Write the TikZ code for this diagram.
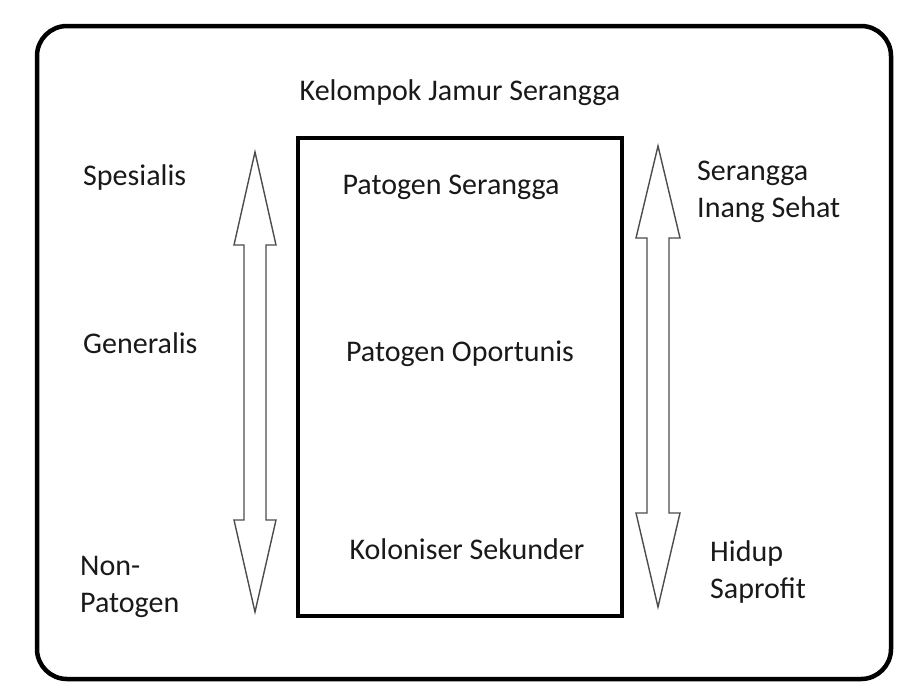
\documentclass[tikz,border=0pt]{standalone}
\usepackage{fontspec}
\setmainfont{Carlito}
\usepackage{xcolor}

\tikzset{
  lbl/.style={inner sep=0pt, font=\fontsize{30}{37}\selectfont, text=black!90},
  kotak/.style={line width=4.5pt, draw=black},
  panah/.style={draw=black!70, line width=1.4pt, fill=white, line join=miter}
}

\begin{document}
\begin{tikzpicture}[x=1pt,y=-1pt]
\useasboundingbox (0,0) rectangle (904,694);
% outer frame and inner box
\draw[kotak, rounded corners=30pt] (37,26) rectangle (891,679);
\draw[kotak] (298,138) rectangle (622,616);
% double arrows
\draw[panah] (255,152)--(276,245)--(266,245)--(266,520)--(276,520)--(255,612)
    --(234,520)--(244,520)--(244,245)--(234,245)--cycle;
\draw[panah] (658,146)--(680,238)--(669,238)--(669,513)--(680,513)--(658,607)
    --(636,513)--(647,513)--(647,238)--(636,238)--cycle;
% labels
\node[lbl] (judul) at (460,93) {Kelompok Jamur Serangga};
\node[lbl, anchor=west] (spes) at (83,177) {Spesialis};
\node[lbl, anchor=west] (gen) at (83,343) {Generalis};
\node[lbl, anchor=west, align=left] (nonpat) at (80,587) {Non-\\Patogen};
\node[lbl] (patser) at (451,187) {Patogen Serangga};
\node[lbl] (patop) at (460,354) {Patogen Oportunis};
\node[lbl] (kolon) at (467,549) {Koloniser Sekunder};
\node[lbl, anchor=west, align=left] (inang) at (697,192) {Serangga\\Inang Sehat};
\node[lbl, anchor=west, align=left] (hidup) at (710,572) {Hidup\\Saprofit};
\end{tikzpicture}
\end{document}
